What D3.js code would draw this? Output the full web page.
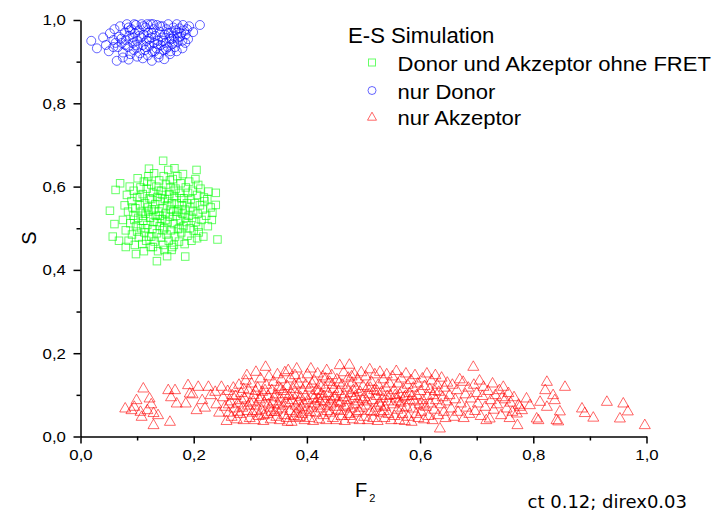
<!DOCTYPE html>
<html><head><meta charset="utf-8">
<script src="https://cdn.jsdelivr.net/npm/d3@7"></script>
<style>
html,body{margin:0;padding:0;background:#fff;}
text{font-family:"Liberation Sans",Arial,sans-serif;fill:#000;}
</style></head>
<body><svg id="chart" width="720" height="512"></svg>
<script>
// ---------- data ----------
const seriesNames = ["Donor und Akzeptor ohne FRET", "nur Donor", "nur Akzeptor"];
const legendTitle = "E-S Simulation";
const xTicks = [0, 0.2, 0.4, 0.6, 0.8, 1.0];
const yTicks = [0, 0.2, 0.4, 0.6, 0.8, 1.0];
const xMinorTicks = [0.1, 0.3, 0.5, 0.7, 0.9];
const yMinorTicks = [0.1, 0.3, 0.5, 0.7, 0.9];
const noteText = "ct 0.12; direx0.03";

// nur Donor (blue circles) [F2, S]
const donorOnly = [
[0.019,0.950],[0.029,0.932],[0.040,0.958],[0.045,0.940],[0.052,0.968],[0.050,0.925],[0.058,0.952],[0.060,0.978],
[0.064,0.902],[0.075,0.910],[0.085,0.905],[0.100,0.912],[0.110,0.908],[0.126,0.902],[0.138,0.910],[0.148,0.906],[0.158,0.918],[0.170,0.925],[0.180,0.932],
[0.190,0.954],[0.199,0.971],[0.211,0.988],[0.185,0.945],[0.192,0.985],[0.183,0.975],[0.176,0.960],[0.172,0.948],
[0.066,0.935],[0.068,0.960],[0.070,0.985],[0.073,0.945],[0.075,0.922],[0.078,0.970],[0.080,0.952],[0.082,0.990],[0.084,0.935],[0.086,0.962],
[0.088,0.918],[0.090,0.978],[0.092,0.945],[0.094,0.928],[0.096,0.968],[0.098,0.988],[0.100,0.950],[0.101,0.935],[0.103,0.975],[0.105,0.920],
[0.107,0.958],[0.108,0.990],[0.110,0.940],[0.112,0.965],[0.114,0.928],[0.115,0.982],[0.117,0.950],[0.119,0.915],[0.120,0.970],[0.122,0.938],
[0.124,0.990],[0.125,0.958],[0.127,0.925],[0.129,0.978],[0.130,0.945],[0.132,0.962],[0.134,0.932],[0.135,0.988],[0.137,0.950],[0.139,0.918],
[0.140,0.972],[0.142,0.940],[0.144,0.958],[0.145,0.985],[0.147,0.928],[0.149,0.965],[0.150,0.945],[0.152,0.978],[0.154,0.935],[0.155,0.990],
[0.157,0.955],[0.159,0.925],[0.160,0.970],[0.162,0.942],[0.164,0.982],[0.165,0.960],[0.167,0.935],[0.168,0.975],[0.170,0.990],[0.172,0.958],
[0.175,0.980],[0.178,0.968],[0.180,0.950],[0.181,0.988],[0.186,0.965],[0.188,0.978],
[0.072,0.955],[0.079,0.940],[0.087,0.975],[0.093,0.958],[0.097,0.940],[0.104,0.962],[0.111,0.985],[0.116,0.935],[0.121,0.955],[0.126,0.968],
[0.131,0.925],[0.136,0.942],[0.141,0.985],[0.146,0.950],[0.151,0.930],[0.156,0.968],[0.161,0.955],[0.166,0.948],[0.171,0.970],[0.118,0.990],
[0.128,0.990],[0.095,0.990],[0.085,0.982],[0.062,0.945],[0.058,0.935]
];

// Donor und Akzeptor ohne FRET (green squares)
const donorAcceptor = [
[0.146,0.662],[0.166,0.644],[0.205,0.640],[0.121,0.643],[0.052,0.542],[0.057,0.480],[0.242,0.473],[0.239,0.585],[0.239,0.556],[0.135,0.421],
[0.185,0.432],[0.098,0.438],[0.153,0.433],[0.070,0.608],[0.062,0.592],[0.226,0.588],[0.218,0.574],[0.208,0.604],[0.060,0.510],[0.068,0.470],
[0.080,0.455],[0.112,0.445],[0.161,0.448],[0.206,0.476],[0.208,0.504],[0.233,0.537],
[0.075,0.520],[0.078,0.555],[0.080,0.495],[0.082,0.580],[0.084,0.540],[0.085,0.470],[0.087,0.600],[0.088,0.512],[0.090,0.565],[0.091,0.485],
[0.093,0.530],[0.094,0.590],[0.096,0.460],[0.097,0.548],[0.098,0.505],[0.100,0.575],[0.101,0.620],[0.102,0.525],[0.103,0.478],[0.105,0.555],
[0.106,0.598],[0.107,0.500],[0.108,0.540],[0.109,0.462],[0.110,0.582],[0.111,0.518],[0.112,0.612],[0.113,0.490],[0.114,0.560],[0.115,0.535],
[0.116,0.470],[0.117,0.595],[0.118,0.508],[0.119,0.550],[0.120,0.625],[0.121,0.480],[0.122,0.572],[0.123,0.525],[0.124,0.455],[0.125,0.605],
[0.126,0.545],[0.127,0.498],[0.128,0.585],[0.129,0.515],[0.130,0.632],[0.131,0.468],[0.132,0.558],[0.133,0.530],[0.134,0.600],[0.135,0.488],
[0.136,0.575],[0.137,0.445],[0.138,0.540],[0.139,0.615],[0.140,0.505],[0.141,0.565],[0.142,0.478],[0.143,0.590],[0.144,0.522],[0.145,0.548],
[0.146,0.460],[0.147,0.625],[0.148,0.500],[0.149,0.570],[0.150,0.535],[0.151,0.605],[0.152,0.485],[0.153,0.555],[0.154,0.515],[0.155,0.640],
[0.156,0.470],[0.157,0.582],[0.158,0.528],[0.159,0.598],[0.160,0.495],[0.161,0.560],[0.162,0.455],[0.163,0.618],[0.164,0.540],[0.165,0.510],
[0.166,0.575],[0.167,0.480],[0.168,0.595],[0.169,0.530],[0.170,0.560],[0.171,0.625],[0.172,0.498],[0.173,0.545],[0.174,0.468],[0.175,0.585],
[0.176,0.520],[0.177,0.608],[0.178,0.490],[0.179,0.555],[0.180,0.535],[0.181,0.630],[0.182,0.505],[0.183,0.572],[0.184,0.462],[0.185,0.545],
[0.186,0.598],[0.187,0.515],[0.188,0.560],[0.189,0.482],[0.190,0.585],[0.191,0.530],[0.192,0.612],[0.193,0.500],[0.194,0.550],[0.195,0.570],
[0.196,0.470],[0.197,0.525],[0.198,0.590],[0.199,0.540],[0.200,0.495],[0.202,0.560],[0.203,0.618],[0.204,0.515],[0.206,0.580],[0.207,0.535],
[0.209,0.490],[0.211,0.555],[0.212,0.595],[0.214,0.520],[0.216,0.545],[0.217,0.480],[0.219,0.565],[0.222,0.530],[0.224,0.570],[0.225,0.505],
[0.230,0.550],[0.232,0.520],
[0.110,0.530],[0.120,0.540],[0.130,0.545],[0.140,0.530],[0.150,0.520],[0.160,0.545],[0.170,0.540],[0.125,0.570],[0.135,0.515],[0.145,0.580],
[0.155,0.570],[0.165,0.590],[0.115,0.500],[0.125,0.480],[0.145,0.495],[0.165,0.460],[0.175,0.500],[0.185,0.525],[0.105,0.575],[0.095,0.520],
[0.100,0.492],[0.118,0.612],[0.138,0.590],[0.158,0.615],[0.178,0.572],[0.128,0.455],[0.148,0.448],[0.092,0.550]
];

// nur Akzeptor (red triangles)
const acceptorOnly = [
[0.079,0.068],[0.090,0.064],[0.099,0.088],[0.111,0.116],[0.106,0.060],[0.108,0.048],[0.122,0.092],[0.118,0.064],[0.129,0.028],[0.129,0.057],
[0.137,0.052],[0.158,0.036],[0.155,0.112],[0.167,0.112],[0.170,0.080],[0.190,0.124],[0.186,0.080],[0.193,0.104],[0.205,0.064],[0.208,0.120],
[0.226,0.120],[0.249,0.120],[0.095,0.072],[0.125,0.078],[0.160,0.095],[0.198,0.102],[0.215,0.088],[0.220,0.070],[0.230,0.100],[0.240,0.078],
[0.245,0.058],[0.238,0.108],
[0.252,0.095],[0.255,0.072],[0.258,0.038],[0.260,0.110],[0.262,0.058],[0.265,0.085],[0.267,0.048],[0.270,0.118],[0.272,0.068],[0.274,0.098],
[0.276,0.042],[0.278,0.080],[0.280,0.125],[0.282,0.055],[0.284,0.105],[0.286,0.070],[0.288,0.040],[0.290,0.092],[0.292,0.135],[0.294,0.148],
[0.295,0.062],[0.297,0.112],[0.299,0.045],[0.300,0.082],[0.268,0.100],[0.278,0.060],[0.288,0.115],[0.296,0.075],[0.262,0.078],[0.285,0.088],
[0.302,0.128],[0.304,0.058],[0.306,0.100],[0.308,0.040],[0.310,0.156],[0.311,0.075],[0.313,0.118],[0.315,0.050],[0.316,0.090],[0.318,0.140],
[0.320,0.065],[0.321,0.108],[0.323,0.038],[0.325,0.082],[0.327,0.168],[0.328,0.125],[0.330,0.055],[0.331,0.098],[0.333,0.145],[0.335,0.070],
[0.336,0.042],[0.338,0.112],[0.340,0.085],[0.341,0.132],[0.343,0.060],[0.345,0.102],[0.346,0.048],[0.348,0.150],[0.349,0.078],[0.350,0.120],
[0.305,0.085],[0.312,0.062],[0.319,0.095],[0.326,0.112],[0.332,0.078],[0.337,0.060],[0.342,0.095],[0.347,0.065],[0.309,0.110],[0.324,0.052],
[0.352,0.040],[0.353,0.092],[0.355,0.138],[0.356,0.068],[0.358,0.110],[0.360,0.052],[0.361,0.155],[0.363,0.082],[0.365,0.122],[0.366,0.036],
[0.367,0.160],[0.368,0.098],[0.370,0.062],[0.371,0.140],[0.373,0.036],[0.374,0.088],[0.376,0.115],[0.377,0.050],[0.379,0.148],[0.380,0.075],
[0.382,0.164],[0.383,0.102],[0.384,0.045],[0.386,0.128],[0.387,0.068],[0.389,0.095],[0.390,0.140],[0.392,0.055],[0.393,0.112],[0.395,0.080],
[0.396,0.040],[0.398,0.125],[0.399,0.065],[0.357,0.075],[0.362,0.102],[0.369,0.080],[0.375,0.100],[0.381,0.058],[0.385,0.085],[0.391,0.072],
[0.397,0.098],[0.354,0.115],[0.364,0.045],[0.378,0.125],[0.388,0.048],
[0.401,0.150],[0.402,0.088],[0.404,0.045],[0.405,0.118],[0.407,0.164],[0.408,0.070],[0.410,0.100],[0.411,0.038],[0.413,0.135],[0.414,0.080],
[0.416,0.058],[0.417,0.112],[0.419,0.152],[0.420,0.092],[0.422,0.042],[0.423,0.125],[0.425,0.068],[0.426,0.102],[0.428,0.145],[0.429,0.052],
[0.431,0.085],[0.432,0.118],[0.434,0.040],[0.435,0.160],[0.437,0.075],[0.438,0.105],[0.440,0.132],[0.441,0.058],[0.443,0.090],[0.444,0.148],
[0.446,0.045],[0.447,0.115],[0.449,0.072],[0.406,0.060],[0.412,0.092],[0.418,0.075],[0.424,0.085],[0.430,0.098],[0.436,0.062],[0.442,0.080],
[0.448,0.095],[0.409,0.128],[0.421,0.110],[0.433,0.140],[0.445,0.125],
[0.450,0.098],[0.452,0.040],[0.453,0.138],[0.455,0.065],[0.456,0.110],[0.458,0.172],[0.459,0.082],[0.461,0.050],[0.462,0.125],[0.464,0.095],
[0.465,0.155],[0.467,0.038],[0.468,0.072],[0.470,0.118],[0.471,0.088],[0.473,0.142],[0.474,0.055],[0.475,0.173],[0.477,0.105],[0.478,0.068],
[0.480,0.130],[0.481,0.042],[0.483,0.092],[0.484,0.150],[0.485,0.078],[0.487,0.115],[0.488,0.058],[0.490,0.138],[0.491,0.085],[0.493,0.040],
[0.494,0.108],[0.496,0.155],[0.497,0.070],[0.499,0.122],[0.454,0.085],[0.460,0.062],[0.466,0.102],[0.472,0.075],[0.476,0.050],[0.482,0.112],
[0.486,0.098],[0.492,0.062],[0.498,0.090],[0.457,0.130],[0.479,0.145],
[0.501,0.048],[0.502,0.095],[0.504,0.145],[0.505,0.075],[0.507,0.118],[0.508,0.040],[0.510,0.102],[0.511,0.162],[0.513,0.062],[0.514,0.132],
[0.516,0.088],[0.517,0.045],[0.519,0.112],[0.520,0.150],[0.522,0.070],[0.523,0.098],[0.525,0.038],[0.526,0.125],[0.528,0.082],[0.529,0.156],
[0.531,0.058],[0.532,0.108],[0.534,0.092],[0.535,0.138],[0.537,0.045],[0.538,0.072],[0.540,0.118],[0.541,0.150],[0.543,0.085],[0.544,0.055],
[0.546,0.128],[0.547,0.100],[0.549,0.040],[0.506,0.085],[0.512,0.118],[0.518,0.060],[0.524,0.110],[0.530,0.075],[0.536,0.062],[0.542,0.098],
[0.551,0.145],[0.552,0.078],[0.554,0.112],[0.555,0.050],[0.557,0.092],[0.558,0.158],[0.560,0.065],[0.561,0.128],[0.563,0.040],[0.564,0.102],
[0.566,0.082],[0.567,0.140],[0.569,0.055],[0.570,0.115],[0.572,0.095],[0.573,0.038],[0.575,0.152],[0.576,0.072],[0.578,0.125],[0.579,0.048],
[0.581,0.105],[0.582,0.088],[0.584,0.136],[0.585,0.036],[0.587,0.068],[0.588,0.118],[0.590,0.085],[0.591,0.148],[0.593,0.055],[0.594,0.100],
[0.596,0.128],[0.597,0.045],[0.599,0.078],[0.556,0.100],[0.562,0.085],[0.568,0.070],[0.574,0.098],[0.586,0.098],
[0.601,0.110],[0.602,0.060],[0.604,0.140],[0.605,0.088],[0.607,0.042],[0.608,0.122],[0.610,0.072],[0.612,0.152],[0.613,0.098],[0.615,0.050],
[0.617,0.115],[0.618,0.080],[0.620,0.135],[0.622,0.040],[0.623,0.100],[0.625,0.065],[0.627,0.148],[0.628,0.088],[0.630,0.125],[0.632,0.052],
[0.633,0.108],[0.635,0.020],[0.637,0.078],[0.638,0.142],[0.640,0.095],[0.642,0.060],[0.643,0.118],[0.645,0.045],[0.647,0.085],[0.648,0.130],
[0.606,0.075],[0.626,0.110],
[0.652,0.100],[0.655,0.068],[0.657,0.125],[0.660,0.048],[0.662,0.090],[0.665,0.112],[0.667,0.060],[0.670,0.138],[0.672,0.080],[0.676,0.132],
[0.677,0.045],[0.680,0.102],[0.682,0.070],[0.685,0.118],[0.687,0.055],[0.690,0.092],[0.694,0.168],[0.695,0.125],[0.697,0.062],[0.700,0.105],
[0.702,0.080],[0.705,0.135],[0.707,0.050],[0.710,0.098],[0.712,0.120],[0.715,0.072],[0.717,0.040],[0.720,0.110],[0.723,0.044],[0.725,0.088],
[0.728,0.128],[0.730,0.065],[0.733,0.100],[0.736,0.078],[0.740,0.112],[0.743,0.052],[0.747,0.120],[0.750,0.090],[0.753,0.068],[0.756,0.105],
[0.760,0.082],[0.763,0.060],[0.766,0.095],[0.771,0.056],[0.772,0.028],[0.774,0.077],[0.776,0.072],[0.788,0.092],[0.794,0.076],[0.780,0.064],
[0.758,0.045],[0.745,0.095],
[0.806,0.044],[0.809,0.040],[0.812,0.084],[0.821,0.112],[0.824,0.132],[0.824,0.072],[0.835,0.100],[0.838,0.088],[0.841,0.040],[0.844,0.037],
[0.847,0.061],[0.856,0.120],[0.886,0.068],[0.891,0.057],[0.906,0.046],[0.930,0.084],[0.953,0.044],[0.959,0.080],[0.967,0.061],[0.997,0.028]
];

// ---------- drawing ----------
const svg = d3.select("#chart");
const x = d3.scaleLinear().domain([0, 1]).range([80.5, 646.5]);
const y = d3.scaleLinear().domain([0, 1]).range([436.5, 20]);
const fmt = d => d3.format(".1f")(d).replace(".", ",");

const colors = { green: "#00ff00", blue: "#0000ff", red: "#ff0000" };
const tri = (w, h) => `M0,${-h*0.6}L${w/2},${h*0.4}L${-w/2},${h*0.4}Z`;

// horizontally widened text, like the original's rendering
function wideText(parent, px, py, str, size, sx, anchor) {
  return parent.append("text")
    .attr("transform", `translate(${px},${py}) scale(${sx},1)`)
    .attr("text-anchor", anchor || "start")
    .style("font-size", size + "px")
    .text(str);
}

const gData = svg.append("g");
gData.selectAll("rect.sq").data(donorAcceptor).join("rect")
  .attr("x", d => x(d[0]) - 3.75).attr("y", d => y(d[1]) - 3.75)
  .attr("width", 7.5).attr("height", 7.5)
  .attr("fill", "none").attr("stroke", colors.green).attr("stroke-opacity", 0.6).attr("stroke-width", 1);

gData.selectAll("circle.c").data(donorOnly).join("circle")
  .attr("cx", d => x(d[0])).attr("cy", d => y(d[1])).attr("r", 4.5)
  .attr("fill", "none").attr("stroke", colors.blue).attr("stroke-opacity", 0.6).attr("stroke-width", 1);

gData.selectAll("path.t").data(acceptorOnly).join("path")
  .attr("d", tri(11, 9.5))
  .attr("transform", d => `translate(${x(d[0])},${y(d[1])})`)
  .attr("fill", "none").attr("stroke", colors.red).attr("stroke-opacity", 0.6).attr("stroke-width", 1);

// axes
const axisStyle = g => {
  g.selectAll(".domain").attr("stroke", "#000").attr("stroke-width", 1.5);
  g.selectAll(".tick line").attr("stroke", "#000").attr("stroke-width", 1.5);
  g.selectAll("text").style("font-family", "'Liberation Sans', Arial, sans-serif")
    .style("font-size", "15px").attr("fill", "#000");
};
const xAxis = svg.append("g").attr("transform", "translate(0,436.5)")
  .call(d3.axisBottom(x).tickValues(xTicks).tickFormat(fmt).tickSize(7).tickSizeOuter(0).tickPadding(6));
axisStyle(xAxis);
xAxis.selectAll(".tick text").attr("transform", "scale(1.12,1)");
const xMinor = svg.append("g").attr("transform", "translate(0,436.5)")
  .call(d3.axisBottom(x).tickValues(xMinorTicks).tickFormat("").tickSize(4).tickSizeOuter(0));
axisStyle(xMinor); xMinor.select(".domain").remove();

const yAxis = svg.append("g").attr("transform", "translate(80.5,0)")
  .call(d3.axisLeft(y).tickValues(yTicks).tickFormat(fmt).tickSize(7).tickSizeOuter(0).tickPadding(6));
axisStyle(yAxis);
yAxis.selectAll(".tick text").attr("transform", "scale(1.12,1)");
const yMinor = svg.append("g").attr("transform", "translate(80.5,0)")
  .call(d3.axisLeft(y).tickValues(yMinorTicks).tickFormat("").tickSize(4).tickSizeOuter(0));
axisStyle(yMinor); yMinor.select(".domain").remove();

// axis titles
svg.append("text").attr("transform", "translate(36,238) rotate(-90)")
  .attr("text-anchor", "middle").style("font-size", "20px").text("S");
const xt = svg.append("text").attr("x", 355).attr("y", 497).style("font-size", "20px");
xt.append("tspan").text("F");
xt.append("tspan").attr("dy", 5).attr("dx", 2).style("font-size", "11px").text("2");

// note
svg.append("text").attr("x", 687).attr("y", 508).attr("text-anchor", "end")
  .style("font-family", "'DejaVu Sans', sans-serif").style("font-size", "18px").text(noteText);

// legend
const lg = svg.append("g");
wideText(lg, 348, 43, legendTitle, 21.5, 1.03);
const legendRows = [
  { name: seriesNames[0], shape: "square", color: colors.green, cy: 62.5 },
  { name: seriesNames[1], shape: "circle", color: colors.blue, cy: 90.5 },
  { name: seriesNames[2], shape: "triangle", color: colors.red, cy: 117 }
];
legendRows.forEach(r => {
  const g = lg.append("g").attr("transform", `translate(372,${r.cy})`);
  if (r.shape === "square") g.append("rect").attr("x", -3.5).attr("y", -3.5).attr("width", 7).attr("height", 7);
  else if (r.shape === "circle") g.append("circle").attr("r", 4);
  else g.append("path").attr("d", tri(9, 8));
  g.selectAll("*").attr("fill", "none").attr("stroke", r.color).attr("stroke-opacity", 0.6).attr("stroke-width", 1);
  wideText(lg, 397.5, r.cy + 8, r.name, 19.5, 1.13);
});
</script>
</body></html>
